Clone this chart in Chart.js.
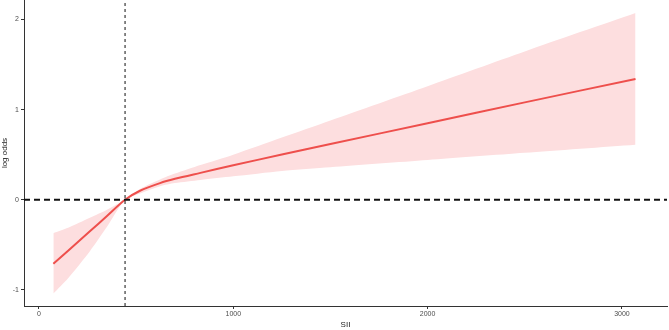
<!DOCTYPE html>
<html>
<head>
<meta charset="utf-8">
<script src="https://cdn.jsdelivr.net/npm/chart.js@4.4.1/dist/chart.umd.min.js"></script>
<style>
html,body{margin:0;padding:0;background:#fff;}
#wrap{width:669px;height:330px;position:relative;}
</style>
</head>
<body>
<div id="wrap"><canvas id="c" width="669" height="330"></canvas></div>
<script>
const sii     = [74, 150, 262, 350, 443, 520, 623, 700, 831, 1000, 1250, 1500, 2000, 2500, 3070];
const logOdds = [-0.71, -0.565, -0.35, -0.18, 0, 0.10, 0.185, 0.232, 0.298, 0.382, 0.502, 0.618, 0.849, 1.08, 1.34];
const upperCI = [-0.37, -0.31, -0.20, -0.11, 0, 0.12, 0.225, 0.29, 0.385, 0.50, 0.69, 0.88, 1.26, 1.645, 2.07];
const lowerCI = [-1.04, -0.87, -0.57, -0.30, 0, 0.07, 0.15, 0.185, 0.22, 0.26, 0.32, 0.36, 0.44, 0.52, 0.61];
const refSII = 443;
const refLogOdds = 0;
const xTicks = [0, 1000, 2000, 3000];
const yTicks = [-1, 0, 1, 2];
const xRange = [-77, 3232];
const yRange = [-1.178, 2.215];

const pts = (ys) => sii.map((x, i) => ({x: x, y: ys[i]}));
const lineCol = '#EE4F4C';
const fillCol = 'rgba(253,222,223,1)';
const axisCol = '#333333';
const tickFont = {family: 'Liberation Sans, Arial, sans-serif', size: 7};
const noPad = (s) => { s.paddingTop = 0; s.paddingBottom = 0; s.paddingLeft = 0; s.paddingRight = 0; };

new Chart(document.getElementById('c'), {
  type: 'line',
  data: {
    datasets: [
      {data: pts(upperCI), borderWidth: 0, pointRadius: 0, fill: '+1', backgroundColor: fillCol, borderColor: 'rgba(0,0,0,0)', tension: 0.25, order: 3},
      {data: pts(lowerCI), borderWidth: 0, pointRadius: 0, fill: false, borderColor: 'rgba(0,0,0,0)', tension: 0.25, order: 3},
      {data: pts(logOdds), borderWidth: 2, pointRadius: 0, fill: false, borderColor: lineCol, tension: 0.3, order: 1},
      {data: [{x: xRange[0], y: refLogOdds}, {x: xRange[1], y: refLogOdds}], borderWidth: 2, borderDash: [6, 4], borderColor: '#111', pointRadius: 0, fill: false, order: 0},
      {data: [{x: refSII, y: yRange[0]}, {x: refSII, y: yRange[1]}], borderWidth: 1, borderDash: [3, 3], borderColor: '#111', pointRadius: 0, fill: false, order: 0}
    ]
  },
  options: {
    responsive: false,
    animation: false,
    devicePixelRatio: 1,
    layout: {padding: {left: 0, right: 2, top: 0, bottom: 0}},
    plugins: {legend: {display: false}, tooltip: {enabled: false}},
    scales: {
      x: {
        type: 'linear', min: xRange[0], max: xRange[1],
        afterBuildTicks: (s) => { s.ticks = xTicks.map(v => ({value: v})); },
        afterFit: (s) => { s.height = 24; noPad(s); },
        ticks: {color: '#4d4d4d', font: tickFont, padding: 1, maxRotation: 0, callback: (v) => String(v)},
        grid: {display: true, drawOnChartArea: false, drawTicks: true, tickLength: 3, color: axisCol},
        border: {display: true, color: axisCol, width: 1},
        title: {display: true, text: 'SII', color: '#222', font: {family: 'Liberation Sans, Arial, sans-serif', size: 8}, padding: {top: 0, bottom: 0}}
      },
      y: {
        type: 'linear', min: yRange[0], max: yRange[1],
        afterBuildTicks: (s) => { s.ticks = yTicks.map(v => ({value: v})); },
        afterFit: (s) => { s.width = 24; noPad(s); },
        ticks: {color: '#4d4d4d', font: tickFont, padding: 2, callback: (v) => String(v)},
        grid: {display: true, drawOnChartArea: false, drawTicks: true, tickLength: 3, color: axisCol},
        border: {display: true, color: axisCol, width: 1},
        title: {display: true, text: 'log odds', color: '#222', font: {family: 'Liberation Sans, Arial, sans-serif', size: 8}, padding: {top: 0, bottom: 2}}
      }
    }
  }
});
</script>
</body>
</html>
